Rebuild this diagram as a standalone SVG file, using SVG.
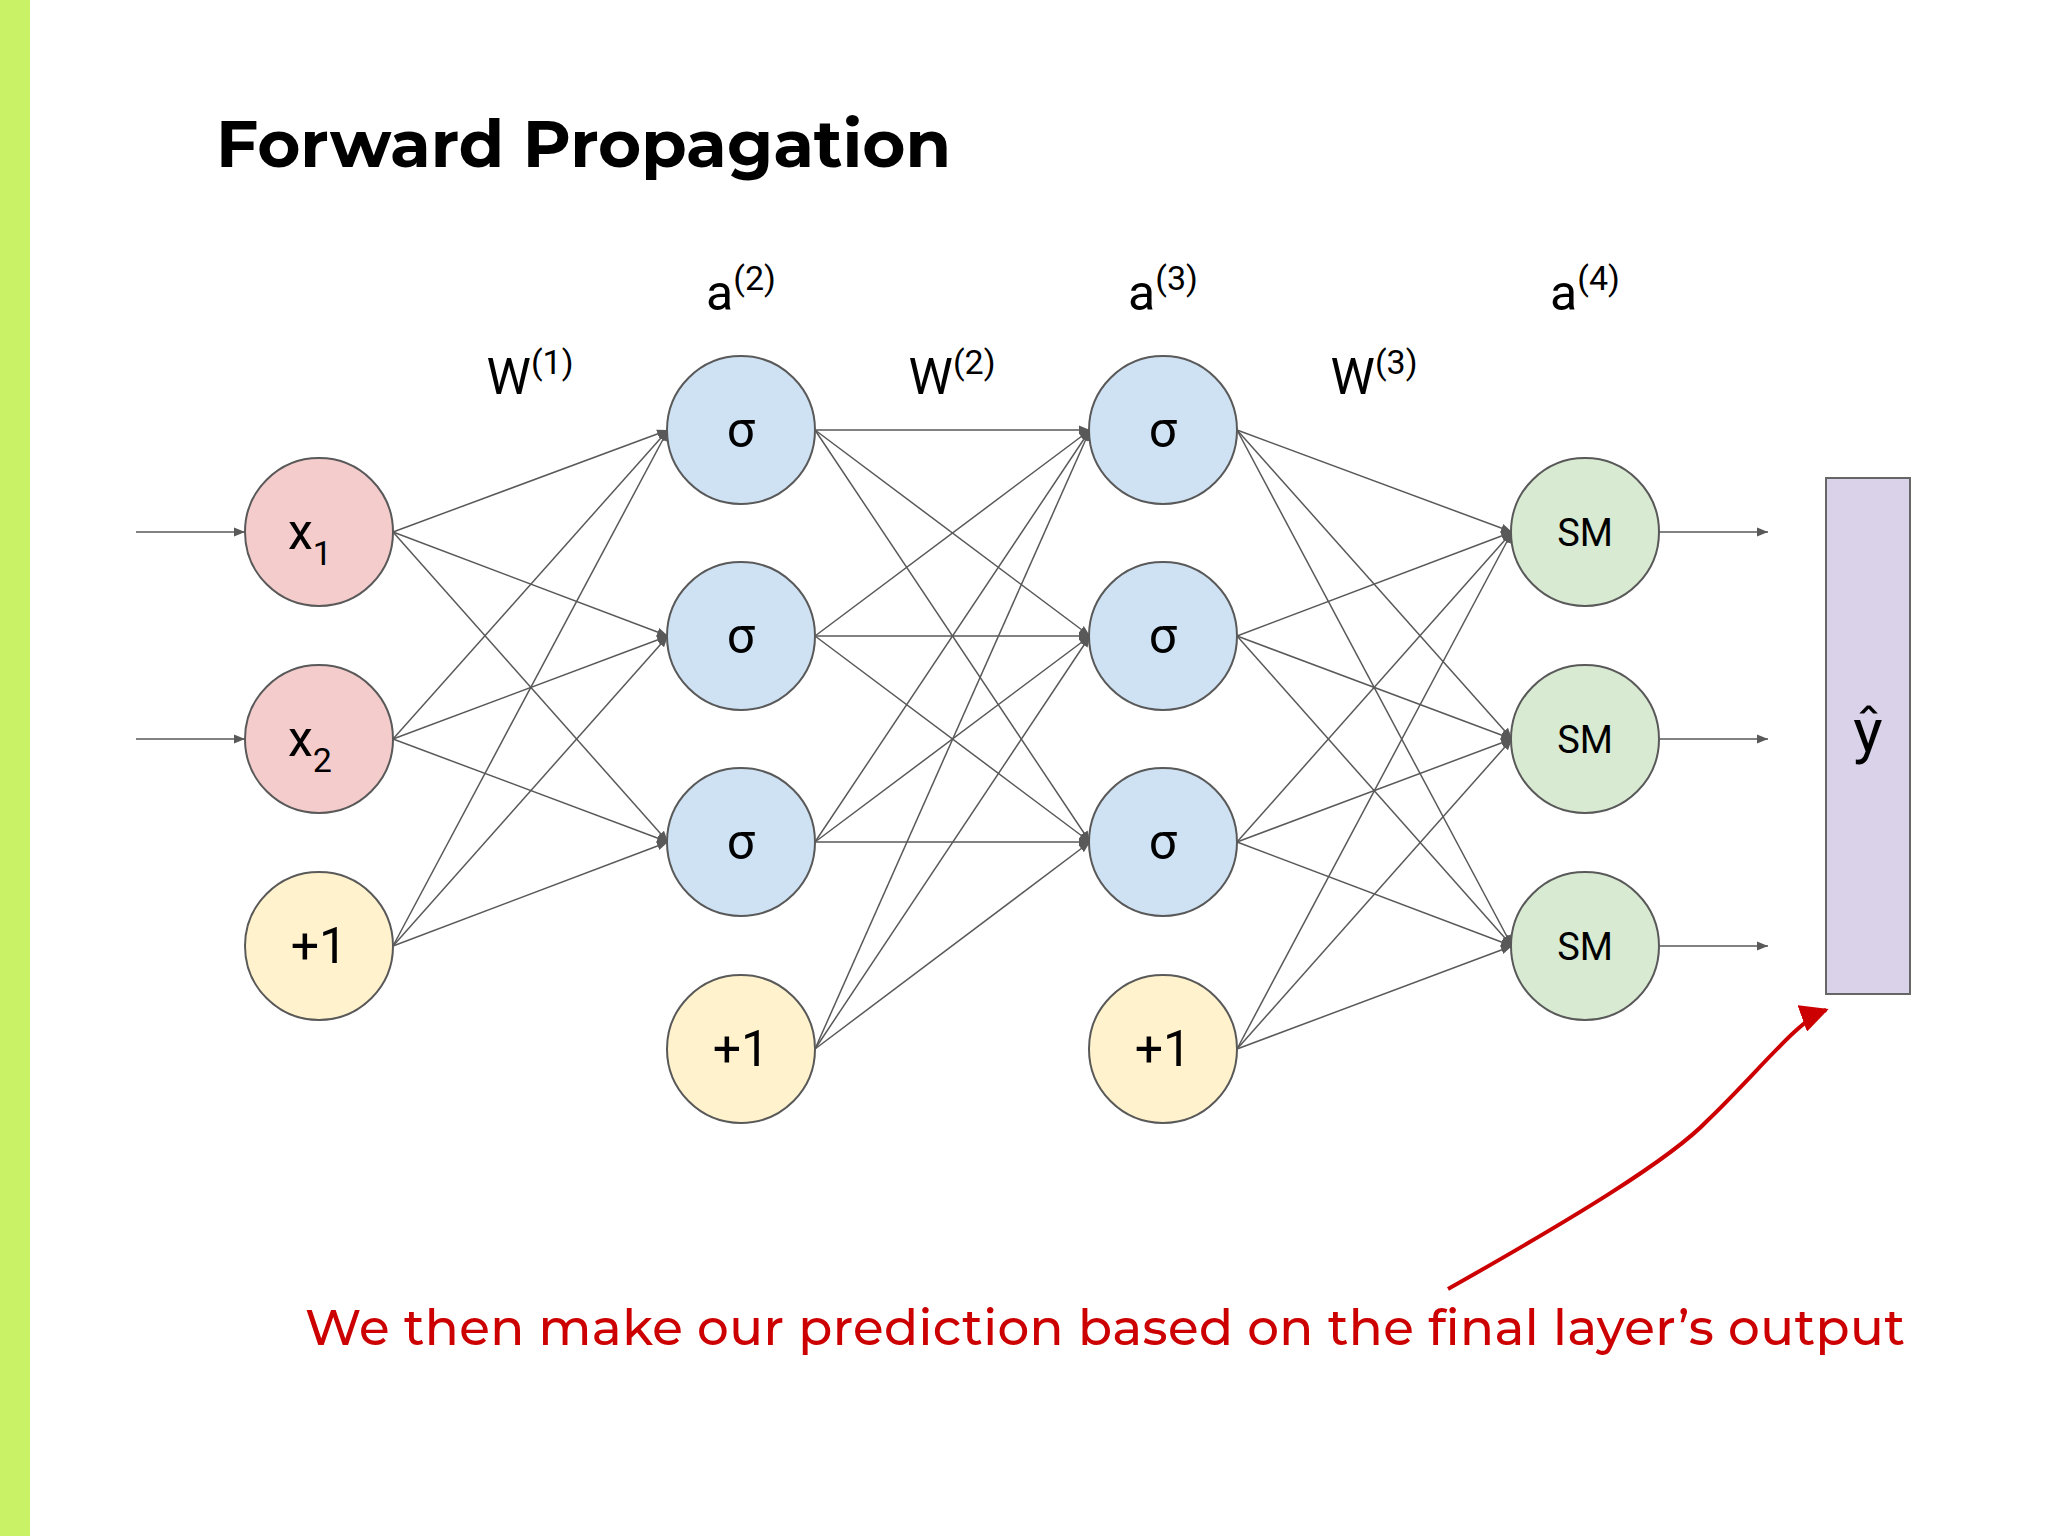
<svg xmlns="http://www.w3.org/2000/svg" width="2048" height="1536" viewBox="0 0 2048 1536">
<style>
.n{stroke:#595959;stroke-width:2}
.t{font-family:Roboto,"Liberation Sans",sans-serif;fill:#000;text-anchor:middle}
.e{stroke:#595959;stroke-width:1.5;fill:none;marker-end:url(#a)}
</style>
<defs>
<marker id="a" viewBox="0 0 10 10" refX="10" refY="5" markerWidth="11" markerHeight="11" markerUnits="userSpaceOnUse" orient="auto"><path d="M0,1 L10,5 L0,9z" fill="#595959"/></marker>
<marker id="r" viewBox="0 0 10 10" refX="9" refY="5" markerWidth="7" markerHeight="7" orient="auto"><path d="M0,0 L10,5 L0,10z" fill="#cc0000"/></marker>
</defs>
<rect width="2048" height="1536" fill="#fff"/>
<rect width="30" height="1536" fill="#c9f266"/>
<text x="216" y="167" font-family="Montserrat,Lato,'Open Sans',sans-serif" font-weight="bold" font-size="66" textLength="735" fill="#000">Forward Propagation</text>
<g id="labels" class="t" font-size="50">
<text x="741" y="310">a<tspan font-size="34" dy="-20">(2)</tspan></text>
<text x="1163" y="310">a<tspan font-size="34" dy="-20">(3)</tspan></text>
<text x="1585" y="310">a<tspan font-size="34" dy="-20">(4)</tspan></text>
<text x="530" y="394">W<tspan font-size="34" dy="-20">(1)</tspan></text>
<text x="952" y="394">W<tspan font-size="34" dy="-20">(2)</tspan></text>
<text x="1374" y="394">W<tspan font-size="34" dy="-20">(3)</tspan></text>
</g>
<g id="connectors">
<path class="e" d="M136,532H245"/><path class="e" d="M136,739H245"/>
<path class="e" d="M1660,532H1768"/><path class="e" d="M1660,739H1768"/><path class="e" d="M1660,946H1768"/>
<path class="e" d="M393,532L668,430"/><path class="e" d="M393,532L668,636"/><path class="e" d="M393,532L668,842"/>
<path class="e" d="M393,739L668,430"/><path class="e" d="M393,739L668,636"/><path class="e" d="M393,739L668,842"/>
<path class="e" d="M393,946L668,430"/><path class="e" d="M393,946L668,636"/><path class="e" d="M393,946L668,842"/>
<path class="e" d="M815,430L1090,430"/><path class="e" d="M815,430L1090,636"/><path class="e" d="M815,430L1090,842"/>
<path class="e" d="M815,636L1090,430"/><path class="e" d="M815,636L1090,636"/><path class="e" d="M815,636L1090,842"/>
<path class="e" d="M815,842L1090,430"/><path class="e" d="M815,842L1090,636"/><path class="e" d="M815,842L1090,842"/>
<path class="e" d="M815,1049L1090,430"/><path class="e" d="M815,1049L1090,636"/><path class="e" d="M815,1049L1090,842"/>
<path class="e" d="M1237,430L1512,532"/><path class="e" d="M1237,430L1512,739"/><path class="e" d="M1237,430L1512,946"/>
<path class="e" d="M1237,636L1512,532"/><path class="e" d="M1237,636L1512,739"/><path class="e" d="M1237,636L1512,946"/>
<path class="e" d="M1237,842L1512,532"/><path class="e" d="M1237,842L1512,739"/><path class="e" d="M1237,842L1512,946"/>
<path class="e" d="M1237,1049L1512,532"/><path class="e" d="M1237,1049L1512,739"/><path class="e" d="M1237,1049L1512,946"/>
<path d="M1448,1289 C1570,1220 1670,1160 1708,1120 C1760,1070 1798,1020 1826,1010" stroke="#cc0000" stroke-width="4" fill="none" marker-end="url(#r)"/>
</g>
<g id="x1"><circle class="n" cx="319" cy="532" r="74" fill="#f4cccc"/><text class="t" x="310" y="549" font-size="50">x<tspan font-size="34" dy="16">1</tspan></text></g>
<g id="x2"><circle class="n" cx="319" cy="739" r="74" fill="#f4cccc"/><text class="t" x="310" y="756" font-size="50">x<tspan font-size="34" dy="16">2</tspan></text></g>
<g id="b1"><circle class="n" cx="319" cy="946" r="74" fill="#fff2cc"/><text class="t" x="319" y="963" font-size="50">+1</text></g>
<g id="h21"><circle class="n" cx="741" cy="430" r="74" fill="#cfe2f3"/><text class="t" x="741" y="447" font-size="50">σ</text></g>
<g id="h22"><circle class="n" cx="741" cy="636" r="74" fill="#cfe2f3"/><text class="t" x="741" y="653" font-size="50">σ</text></g>
<g id="h23"><circle class="n" cx="741" cy="842" r="74" fill="#cfe2f3"/><text class="t" x="741" y="859" font-size="50">σ</text></g>
<g id="b2"><circle class="n" cx="741" cy="1049" r="74" fill="#fff2cc"/><text class="t" x="741" y="1066" font-size="50">+1</text></g>
<g id="h31"><circle class="n" cx="1163" cy="430" r="74" fill="#cfe2f3"/><text class="t" x="1163" y="447" font-size="50">σ</text></g>
<g id="h32"><circle class="n" cx="1163" cy="636" r="74" fill="#cfe2f3"/><text class="t" x="1163" y="653" font-size="50">σ</text></g>
<g id="h33"><circle class="n" cx="1163" cy="842" r="74" fill="#cfe2f3"/><text class="t" x="1163" y="859" font-size="50">σ</text></g>
<g id="b3"><circle class="n" cx="1163" cy="1049" r="74" fill="#fff2cc"/><text class="t" x="1163" y="1066" font-size="50">+1</text></g>
<g id="sm1"><circle class="n" cx="1585" cy="532" r="74" fill="#d9ead3"/><text class="t" x="1585" y="546" font-size="38">SM</text></g>
<g id="sm2"><circle class="n" cx="1585" cy="739" r="74" fill="#d9ead3"/><text class="t" x="1585" y="753" font-size="38">SM</text></g>
<g id="sm3"><circle class="n" cx="1585" cy="946" r="74" fill="#d9ead3"/><text class="t" x="1585" y="960" font-size="38">SM</text></g>
<g id="yhat"><rect x="1826" y="478" width="84" height="516" fill="#d9d2e9" stroke="#666" stroke-width="2"/><text class="t" x="1868" y="752" font-size="62">ŷ</text></g>
<text x="305" y="1345" font-family="Montserrat,Lato,'Open Sans',sans-serif" font-weight="500" font-size="50" fill="#cc0000" textLength="1600">We then make our prediction based on the final layer’s output</text>
</svg>
